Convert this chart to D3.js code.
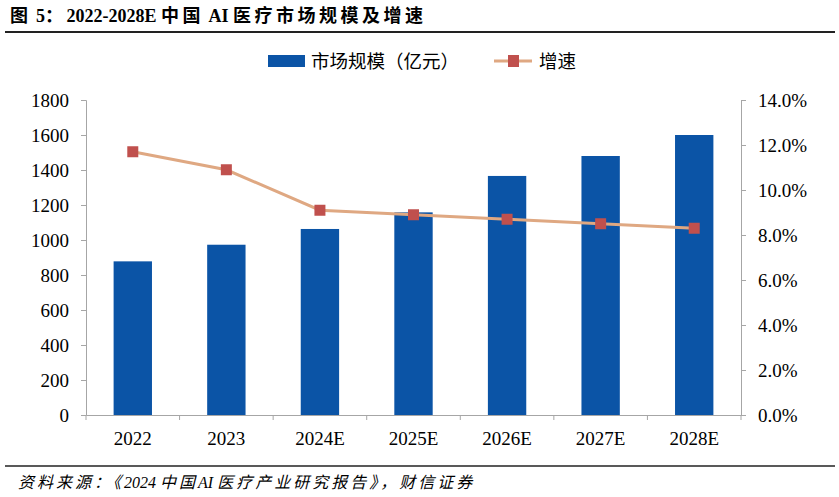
<!DOCTYPE html>
<html>
<head>
<meta charset="utf-8">
<script src="https://cdn.jsdelivr.net/npm/d3@7"></script>
<style>
  body { margin: 0; background: #fff; }
  svg text { font-family: "Liberation Serif", "Noto Sans CJK SC", serif; }
</style>
</head>
<body>
<svg id="chart" width="839" height="497"></svg>
<script>
const categories = ["2022", "2023", "2024E", "2025E", "2026E", "2027E", "2028E"];
const marketSize = [878, 973, 1063, 1158, 1366, 1480, 1600];
const growth = [11.7, 10.9, 9.1, 8.9, 8.7, 8.5, 8.3];
const leftTicks = [0, 200, 400, 600, 800, 1000, 1200, 1400, 1600, 1800];
const rightTicks = [0, 2, 4, 6, 8, 10, 12, 14];

const svg = d3.select("#chart");
const plotLeft = 86, plotRight = 741, plotTop = 100, plotBottom = 415;

const x = d3.scaleBand().domain(categories).range([plotLeft, plotRight]).paddingInner(0.59).paddingOuter(0.295);
const xTicks = d3.scaleBand().domain(categories).range([plotLeft, plotRight]);
const y = d3.scaleLinear().domain([0, 1800]).range([plotBottom, plotTop]);
const y2 = d3.scaleLinear().domain([0, 14]).range([plotBottom, plotTop]);

// mixed text: CJK runs get extra spacing like the original
function spaced(sel, parts, gap) {
  parts.forEach(p => {
    sel.append("tspan")
      .attr("letter-spacing", /[\u3000-\u9fff\uff00-\uffef]/.test(p) ? gap : 0)
      .text(p);
  });
}

// title
const title = svg.append("text")
  .attr("x", 10).attr("y", 22)
  .attr("font-size", 18).attr("font-weight", "bold")
  .attr("fill", "#000");
spaced(title, ["图", " 5", "：", "2022-2028E ", "中国", " AI ", "医疗市场规模及增速"], 3.5);
svg.append("line").attr("x1", 5).attr("x2", 835).attr("y1", 32).attr("y2", 32)
  .attr("stroke", "#222").attr("stroke-width", 2);

// bars
svg.selectAll("rect.bar")
  .data(marketSize)
  .enter()
  .append("rect")
  .attr("class", "bar")
  .attr("x", (d, i) => x(categories[i]))
  .attr("width", x.bandwidth())
  .attr("y", d => y(d))
  .attr("height", d => plotBottom - y(d))
  .attr("fill", "#0B54A6");

// axes
const axisColor = "#A6A6A6";
const gl = svg.append("g").attr("transform", `translate(${plotLeft},0)`)
  .call(d3.axisLeft(y).tickValues(leftTicks).tickSize(5).tickPadding(12).tickFormat(d3.format("d")));
const gr = svg.append("g").attr("transform", `translate(${plotRight},0)`)
  .call(d3.axisRight(y2).tickValues(rightTicks).tickSize(5).tickPadding(12)
    .tickFormat(d => d.toFixed(1) + "%"));
const gx = svg.append("g").attr("transform", `translate(0,${plotBottom})`)
  .call(d3.axisBottom(x).tickSize(0).tickPadding(17));
[gl, gr, gx].forEach(g => {
  g.select(".domain").attr("stroke", axisColor);
  g.selectAll(".tick line").attr("stroke", axisColor);
  g.selectAll("text").attr("font-size", 19).attr("fill", "#000")
    .attr("font-family", "Liberation Serif, serif");
});
// category boundary ticks
svg.append("g").selectAll("line")
  .data(categories.concat(["end"]))
  .enter().append("line")
  .attr("x1", (d, i) => i < categories.length ? xTicks(d) : plotRight)
  .attr("x2", (d, i) => i < categories.length ? xTicks(d) : plotRight)
  .attr("y1", plotBottom).attr("y2", plotBottom + 5)
  .attr("stroke", axisColor);

// growth line
const cx = (d, i) => x(categories[i]) + x.bandwidth() / 2;
svg.append("path")
  .datum(growth)
  .attr("fill", "none")
  .attr("stroke", "#DFA882")
  .attr("stroke-width", 3)
  .attr("d", d3.line().x(cx).y(d => y2(d)));
svg.selectAll("rect.pt")
  .data(growth)
  .enter().append("rect")
  .attr("class", "pt")
  .attr("x", (d, i) => cx(d, i) - 5.5)
  .attr("y", d => y2(d) - 5.5)
  .attr("width", 11).attr("height", 11)
  .attr("fill", "#C0504D");

// legend
const lg = svg.append("g");
lg.append("rect").attr("x", 268).attr("y", 55).attr("width", 37).attr("height", 12).attr("fill", "#0B54A6");
lg.append("text").attr("x", 311).attr("y", 68).attr("font-size", 18.5)
  .attr("font-family", "Noto Sans CJK SC, sans-serif").text("市场规模（亿元）");
lg.append("line").attr("x1", 494).attr("x2", 532).attr("y1", 61).attr("y2", 61)
  .attr("stroke", "#DFA882").attr("stroke-width", 3);
lg.append("rect").attr("x", 508).attr("y", 55).attr("width", 11).attr("height", 12).attr("fill", "#C0504D");
lg.append("text").attr("x", 539).attr("y", 68).attr("font-size", 18.5)
  .attr("font-family", "Noto Sans CJK SC, sans-serif").text("增速");

// source
svg.append("line").attr("x1", 5).attr("x2", 835).attr("y1", 466).attr("y2", 466)
  .attr("stroke", "#222").attr("stroke-width", 1.5);
const src = svg.append("text")
  .attr("x", 18).attr("y", 488)
  .attr("font-size", 16).attr("font-style", "italic")
  .attr("fill", "#000");
spaced(src, ["资料来源：《", "2024 ", "中国", "AI ", "医疗产业研究报告》，财信证券"], 3);
</script>
</body>
</html>
